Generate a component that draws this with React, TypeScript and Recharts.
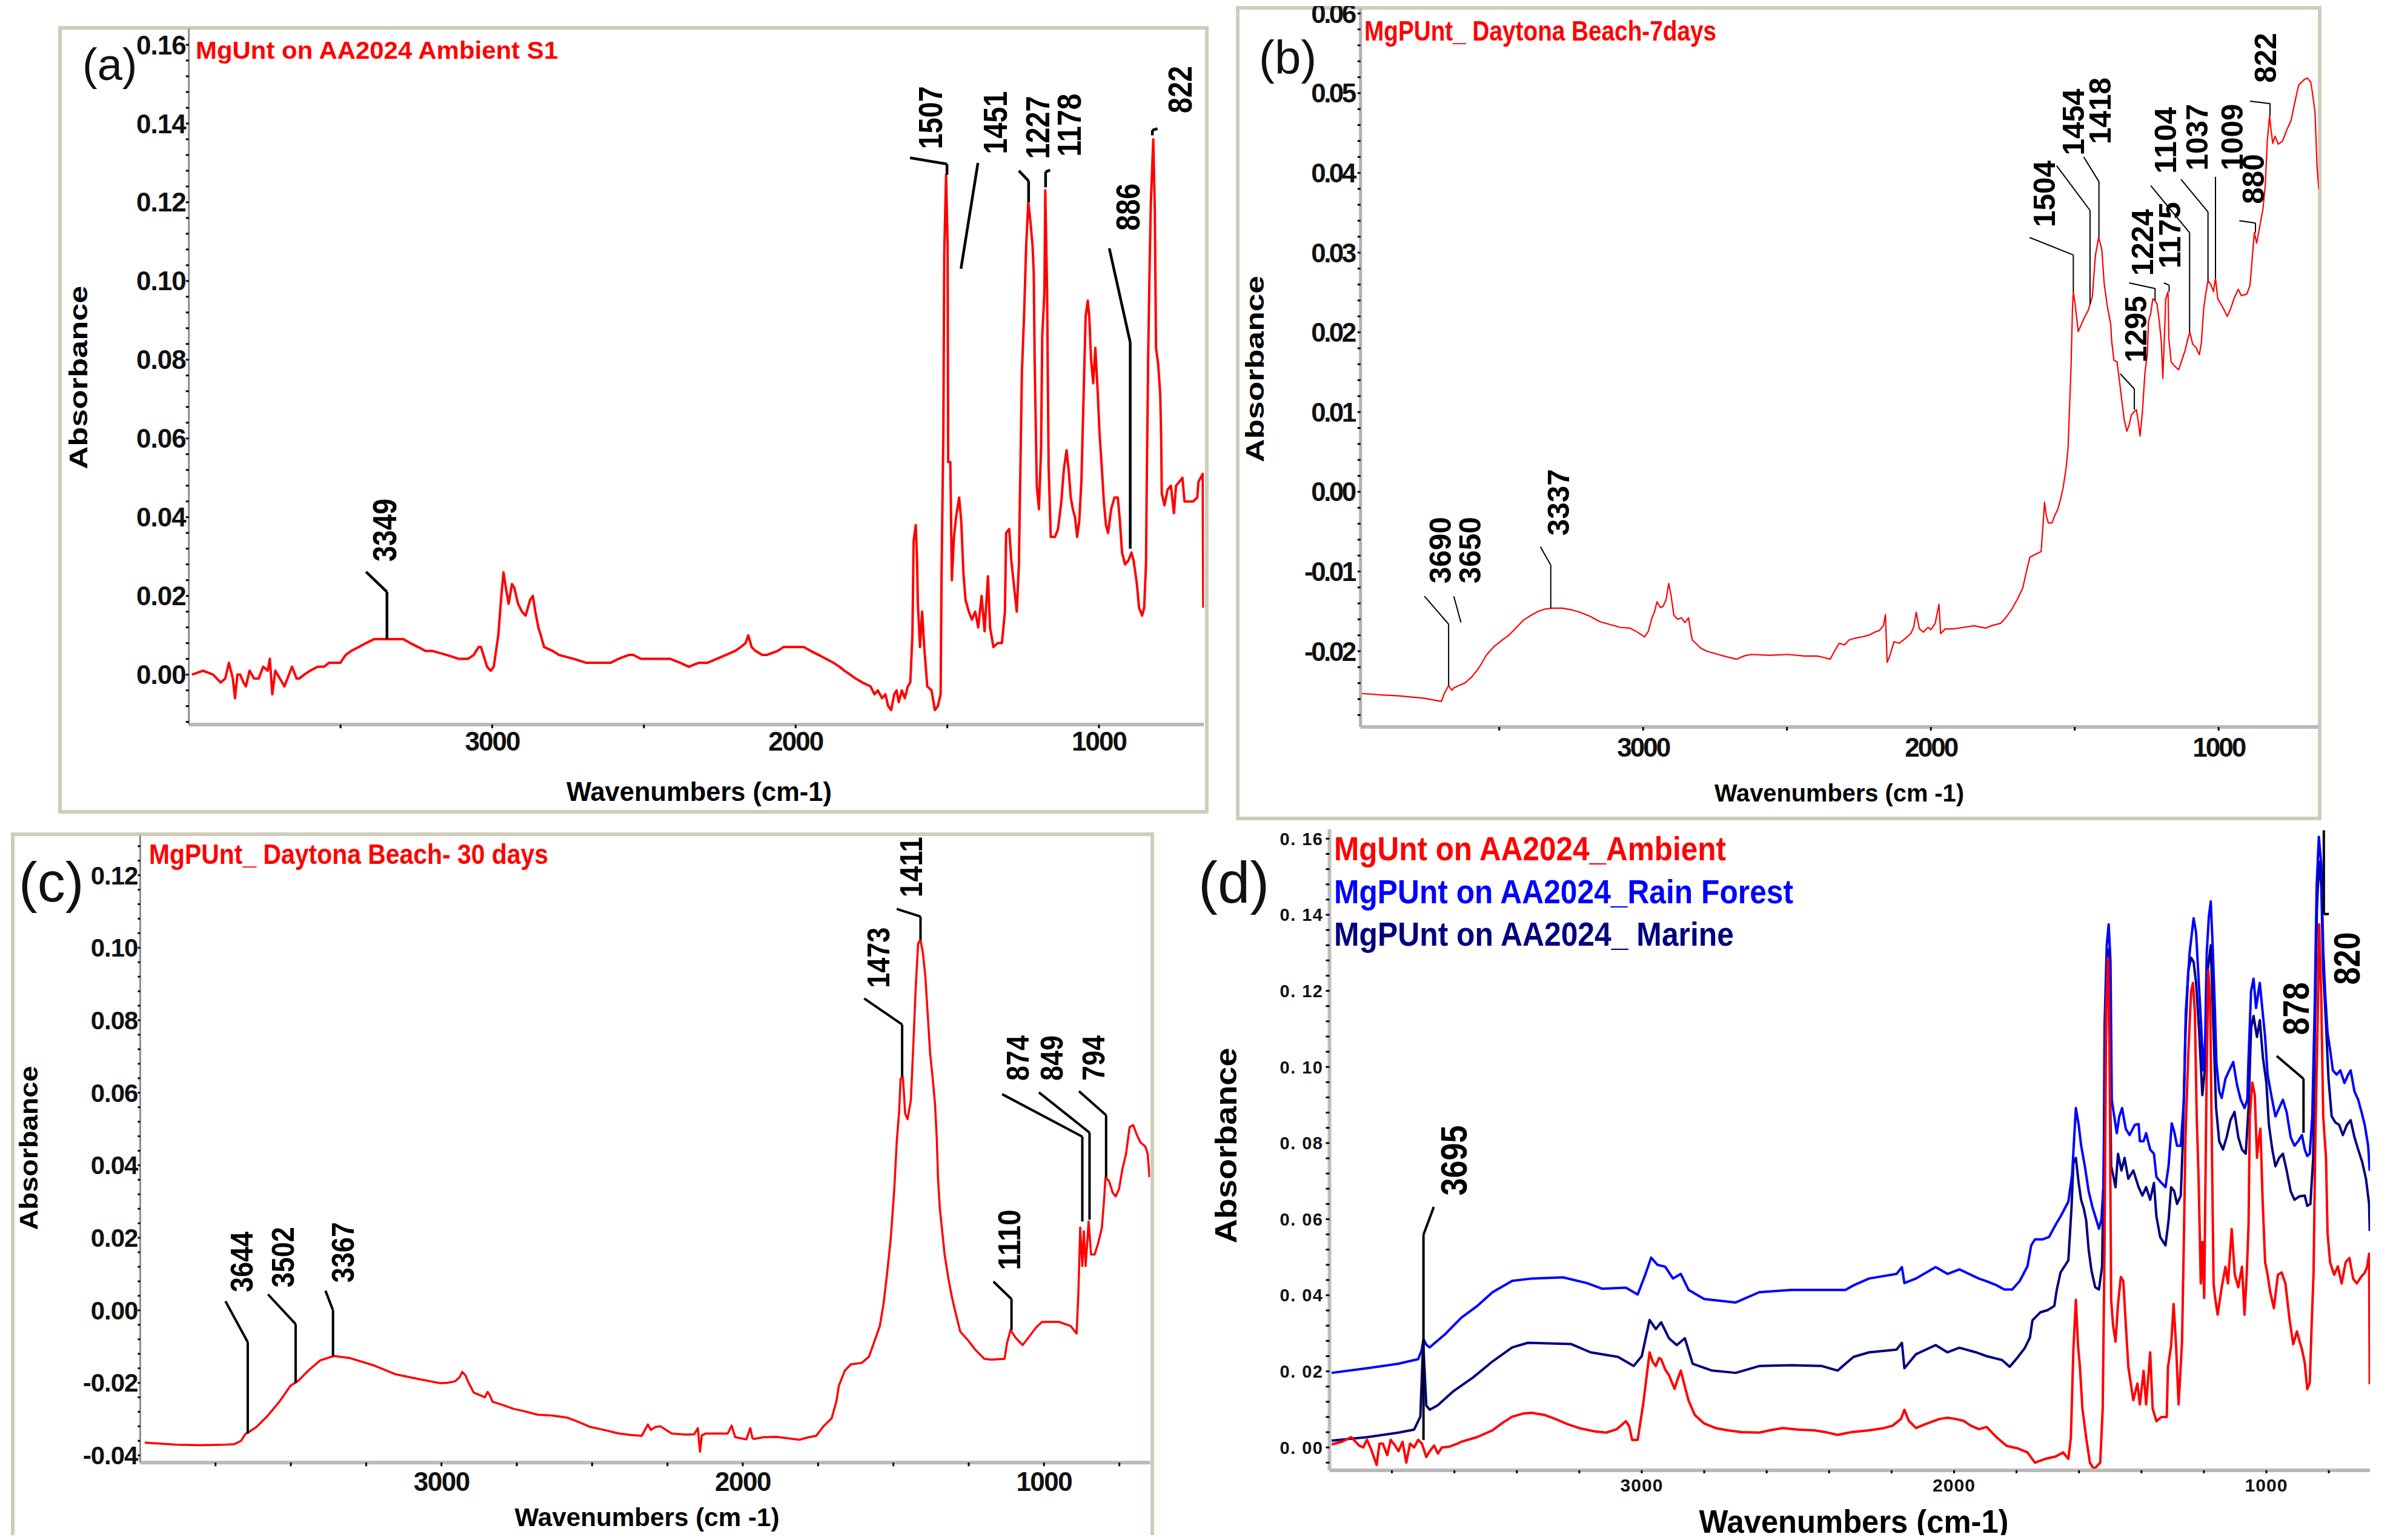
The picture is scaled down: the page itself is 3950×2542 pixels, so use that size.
import React from "react";
import { LineChart, Line, XAxis, YAxis, ReferenceLine, ReferenceDot } from "recharts";

const FONT = "'Liberation Sans', Arial, Helvetica, sans-serif";

// (a) MgUnt on AA2024 Ambient S1
const wnA = [
  3990, 3953, 3920, 3895, 3880, 3868, 3855, 3848, 3840, 3831, 3820, 3812, 3800, 3785, 3770, 3755, 3740, 3733, 3725, 3715,
  3700, 3685, 3670, 3660, 3645, 3636, 3620, 3600, 3575, 3555, 3538, 3520, 3501, 3483, 3465, 3440, 3416, 3390, 3367, 3330,
  3293, 3270, 3244, 3220, 3196, 3150, 3110, 3080, 3061, 3045, 3037, 3025, 3017, 3005, 2995, 2980, 2970, 2963, 2955, 2946,
  2935, 2927, 2915, 2902, 2890, 2875, 2866, 2858, 2848, 2840, 2829, 2800, 2780, 2731, 2690, 2645, 2610, 2584, 2550, 2535,
  2510, 2487, 2450, 2413, 2380, 2352, 2320, 2291, 2260, 2230, 2200, 2181, 2165, 2156, 2145, 2132, 2110, 2095, 2060, 2040,
  2022, 1995, 1973, 1950, 1924, 1900, 1875, 1855, 1839, 1820, 1802, 1780, 1753, 1740, 1729, 1715, 1704, 1695, 1685, 1675,
  1667, 1660, 1650, 1640, 1630, 1622, 1615, 1611, 1604, 1600, 1597, 1590, 1583, 1576, 1566, 1552, 1541, 1531, 1522, 1519,
  1513, 1510, 1504, 1499, 1497, 1490, 1485, 1478, 1471, 1461, 1454, 1447, 1440, 1429, 1419, 1408, 1398, 1387, 1377, 1366,
  1359, 1348, 1334, 1320, 1310, 1306, 1296, 1289, 1278, 1271, 1264, 1261, 1254, 1247, 1240, 1233, 1226, 1219, 1215, 1212,
  1205, 1198, 1191, 1187, 1180, 1177, 1171, 1168, 1166, 1159, 1145, 1135, 1124, 1116, 1107, 1100, 1093, 1086, 1079, 1072,
  1065, 1058, 1051, 1044, 1037, 1032, 1026, 1019, 1012, 1005, 998, 991, 984, 977, 970, 960, 949, 938, 931, 924,
  914, 903, 893, 886, 875, 868, 858, 851, 845, 843, 838, 834, 829, 821, 816, 812, 805, 798, 795, 793,
  784, 774, 763, 753, 746, 735, 725, 718, 704, 690, 676, 672, 658, 656,
];
const absA = [
  0.0, 0.001, 0.0, -0.002, -0.001, 0.003, -0.001, -0.006, 0.0, 0.0, -0.002, -0.003, 0.001, -0.001, -0.001, 0.002, 0.001, 0.004, -0.005, 0.001,
  -0.001, -0.003, 0.0, 0.002, -0.001, -0.001, 0.0, 0.001, 0.002, 0.002, 0.003, 0.003, 0.003, 0.005, 0.006, 0.007, 0.008, 0.009, 0.009, 0.009,
  0.009, 0.008, 0.007, 0.006, 0.006, 0.005, 0.004, 0.004, 0.005, 0.007, 0.007, 0.004, 0.002, 0.001, 0.002, 0.01, 0.02, 0.026, 0.022, 0.018,
  0.023, 0.022, 0.018, 0.016, 0.015, 0.019, 0.02, 0.016, 0.012, 0.01, 0.007, 0.006, 0.005, 0.004, 0.003, 0.003, 0.003, 0.004, 0.005, 0.005,
  0.004, 0.004, 0.004, 0.004, 0.003, 0.002, 0.003, 0.003, 0.004, 0.005, 0.006, 0.007, 0.008, 0.01, 0.007, 0.006, 0.005, 0.005, 0.006, 0.007,
  0.007, 0.007, 0.007, 0.006, 0.005, 0.004, 0.003, 0.002, 0.001, 0.0, -0.001, -0.002, -0.003, -0.005, -0.004, -0.006, -0.005, -0.008, -0.009, -0.005,
  -0.004, -0.007, -0.004, -0.006, -0.003, -0.002, 0.01, 0.034, 0.038, 0.03, 0.018, 0.007, 0.016, 0.007, -0.003, -0.004, -0.009, -0.008, -0.005, 0.025,
  0.062, 0.107, 0.127, 0.109, 0.054, 0.054, 0.024, 0.035, 0.04, 0.045, 0.039, 0.026, 0.019, 0.016, 0.014, 0.016, 0.012, 0.02, 0.011, 0.025,
  0.012, 0.007, 0.008, 0.008, 0.016, 0.036, 0.037, 0.029, 0.021, 0.016, 0.028, 0.043, 0.077, 0.091, 0.109, 0.12, 0.115, 0.109, 0.102, 0.08,
  0.048, 0.042, 0.057, 0.086, 0.097, 0.123, 0.097, 0.07, 0.053, 0.035, 0.035, 0.037, 0.044, 0.052, 0.057, 0.052, 0.045, 0.042, 0.04, 0.035,
  0.039, 0.049, 0.07, 0.091, 0.095, 0.091, 0.08, 0.074, 0.083, 0.073, 0.061, 0.053, 0.044, 0.038, 0.036, 0.042, 0.045, 0.045, 0.039, 0.031,
  0.028, 0.029, 0.031, 0.029, 0.023, 0.017, 0.015, 0.017, 0.028, 0.045, 0.08, 0.1, 0.12, 0.136, 0.118, 0.083, 0.079, 0.071, 0.06, 0.046,
  0.043, 0.047, 0.048, 0.041, 0.048, 0.049, 0.05, 0.044, 0.044, 0.044, 0.045, 0.049, 0.051, 0.017,
];

// (b) MgPUnt_ Daytona Beach-7days
const wnB = [
  3977, 3900, 3849, 3760, 3701, 3691, 3676, 3665, 3658, 3640, 3620, 3595, 3569, 3545, 3518, 3490, 3467, 3440, 3416, 3390,
  3365, 3340, 3314, 3280, 3250, 3220, 3186, 3150, 3110, 3080, 3046, 3020, 2995, 2982, 2969, 2960, 2952, 2940, 2931, 2920,
  2911, 2903, 2893, 2880, 2867, 2855, 2842, 2835, 2829, 2800, 2778, 2730, 2676, 2650, 2625, 2560, 2497, 2440, 2395, 2370,
  2350, 2335, 2319, 2300, 2285, 2268, 2240, 2217, 2195, 2179, 2165, 2158, 2152, 2145, 2128, 2110, 2089, 2070, 2060, 2051,
  2040, 2026, 2010, 2000, 1985, 1972, 1966, 1950, 1923, 1885, 1850, 1809, 1790, 1758, 1740, 1720, 1700, 1681, 1668, 1656,
  1635, 1617, 1610, 1605, 1599, 1592, 1579, 1570, 1559, 1550, 1541, 1530, 1523, 1513, 1508, 1505, 1499, 1488, 1477, 1466,
  1454, 1447, 1439, 1436, 1428, 1417, 1406, 1398, 1387, 1375, 1372, 1364, 1353, 1345, 1337, 1328, 1319, 1310, 1304, 1295,
  1286, 1280, 1273, 1265, 1256, 1248, 1244, 1236, 1229, 1221, 1214, 1206, 1199, 1194, 1188, 1184, 1176, 1173, 1165, 1154,
  1139, 1127, 1116, 1107, 1100, 1090, 1079, 1067, 1060, 1052, 1045, 1037, 1026, 1018, 1011, 1003, 988, 970, 958, 947,
  932, 921, 902, 891, 883, 876, 868, 861, 853, 846, 838, 831, 823, 819, 812, 804, 793, 778, 763, 748,
  737, 722, 703, 692, 680, 673, 665, 661, 658, 652,
];
const absB = [
  -0.0253, -0.0255, -0.0256, -0.0259, -0.0263, -0.0253, -0.0243, -0.0249, -0.0246, -0.0243, -0.024, -0.0232, -0.022, -0.0205, -0.0194, -0.0186, -0.018, -0.017, -0.0161, -0.0155,
  -0.015, -0.0147, -0.0146, -0.0146, -0.0148, -0.0151, -0.0156, -0.0163, -0.0167, -0.017, -0.0171, -0.0176, -0.0182, -0.0175, -0.0158, -0.015, -0.0138, -0.0145, -0.0144, -0.0135,
  -0.0115, -0.013, -0.0155, -0.016, -0.0158, -0.0164, -0.0158, -0.0175, -0.0186, -0.0196, -0.02, -0.0205, -0.021, -0.0206, -0.0204, -0.0205, -0.0204, -0.0206, -0.0206, -0.0208,
  -0.021, -0.02, -0.019, -0.0192, -0.0186, -0.0184, -0.0182, -0.018, -0.0176, -0.0174, -0.0168, -0.0154, -0.0214, -0.0208, -0.0188, -0.019, -0.0184, -0.0178, -0.017, -0.0151,
  -0.0172, -0.0176, -0.017, -0.0173, -0.0165, -0.0141, -0.0178, -0.0172, -0.0172, -0.017, -0.0168, -0.0171, -0.0168, -0.0165, -0.0158, -0.0148, -0.0135, -0.0121, -0.01, -0.0082,
  -0.0078, -0.0075, -0.004, -0.0013, -0.003, -0.0039, -0.0039, -0.003, -0.0022, -0.001, 0.0004, 0.003, 0.0057, 0.0156, 0.023, 0.0251, 0.0236, 0.0201, 0.021, 0.0219,
  0.0227, 0.0235, 0.0245, 0.0259, 0.0297, 0.0319, 0.0304, 0.0262, 0.0233, 0.021, 0.019, 0.0165, 0.0163, 0.014, 0.0116, 0.009, 0.0076, 0.0085, 0.0096, 0.01,
  0.0103, 0.009, 0.007, 0.01, 0.015, 0.0172, 0.0213, 0.0224, 0.0242, 0.024, 0.0235, 0.0213, 0.0187, 0.0142, 0.02, 0.0242, 0.0251, 0.0192, 0.0163, 0.0158,
  0.0153, 0.0166, 0.0178, 0.0192, 0.02, 0.0185, 0.0181, 0.0172, 0.0187, 0.023, 0.0248, 0.0265, 0.0259, 0.0251, 0.0268, 0.0242, 0.0233, 0.022, 0.023, 0.0242,
  0.0254, 0.0246, 0.0248, 0.0259, 0.0294, 0.0325, 0.0312, 0.0325, 0.0341, 0.0355, 0.0384, 0.044, 0.0472, 0.0457, 0.0437, 0.0446, 0.0436, 0.044, 0.0454, 0.0466,
  0.0486, 0.051, 0.0517, 0.0519, 0.0514, 0.0498, 0.0475, 0.0437, 0.0408, 0.0379,
];

// (c) MgPUnt_ Daytona Beach- 30 days
const wnC = [
  3985, 3930, 3873, 3800, 3724, 3687, 3665, 3650, 3643, 3613, 3576, 3538, 3501, 3476, 3439, 3402, 3357, 3303, 3228, 3154,
  3079, 3005, 2980, 2955, 2940, 2931, 2920, 2911, 2893, 2870, 2856, 2847, 2839, 2831, 2794, 2760, 2732, 2680, 2633, 2583,
  2545, 2509, 2460, 2410, 2370, 2335, 2315, 2305, 2290, 2273, 2236, 2190, 2161, 2149, 2142, 2136, 2124, 2090, 2050, 2037,
  2025, 2000, 1988, 1975, 1968, 1963, 1930, 1888, 1860, 1812, 1780, 1756, 1732, 1705, 1689, 1681, 1661, 1641, 1605, 1581,
  1561, 1545, 1533, 1521, 1509, 1497, 1489, 1481, 1476, 1469, 1466, 1461, 1453, 1442, 1434, 1426, 1418, 1410, 1402, 1394,
  1386, 1378, 1370, 1362, 1356, 1352, 1346, 1338, 1330, 1318, 1306, 1294, 1278, 1254, 1230, 1198, 1175, 1131, 1123, 1111,
  1095, 1071, 1047, 1027, 1007, 951, 912, 892, 886, 880, 873, 868, 862, 852, 844, 832, 820, 808, 800, 796,
  784, 772, 762, 751, 740, 728, 716, 704, 692, 680, 664, 656, 650,
];
const absC = [
  -0.0365, -0.0368, -0.0371, -0.0372, -0.0371, -0.0369, -0.036, -0.034, -0.0338, -0.0321, -0.029, -0.0252, -0.0208, -0.0195, -0.0164, -0.0138, -0.0126, -0.0132, -0.0151, -0.0176,
  -0.0189, -0.0201, -0.02, -0.0196, -0.0185, -0.017, -0.018, -0.0198, -0.0227, -0.0235, -0.024, -0.0225, -0.0235, -0.0252, -0.0262, -0.0272, -0.0277, -0.0288, -0.029, -0.0296,
  -0.0308, -0.0321, -0.033, -0.034, -0.0344, -0.0346, -0.0315, -0.033, -0.0322, -0.032, -0.034, -0.0343, -0.0342, -0.0325, -0.039, -0.0345, -0.034, -0.034, -0.034, -0.0318,
  -0.035, -0.0354, -0.0356, -0.0325, -0.0352, -0.0355, -0.035, -0.0349, -0.0352, -0.0357, -0.035, -0.0346, -0.032, -0.0298, -0.025, -0.0208, -0.0166, -0.0149, -0.0145, -0.0128,
  -0.0081, -0.0043, 0.0016, 0.0101, 0.0196, 0.0335, 0.0463, 0.0548, 0.0639, 0.0644, 0.0612, 0.0543, 0.0527, 0.058, 0.0729, 0.0889, 0.1011, 0.1022, 0.0985, 0.0921,
  0.0815, 0.0708, 0.0644, 0.057, 0.0474, 0.0367, 0.0282, 0.0218, 0.0154, 0.009, 0.0037, -0.0006, -0.0059, -0.0081, -0.0107, -0.0134, -0.0136, -0.0134, -0.0091, -0.0054,
  -0.0075, -0.0096, -0.007, -0.0048, -0.0032, -0.0032, -0.0043, -0.0064, 0.0047, 0.0228, 0.0122, 0.0218, 0.0122, 0.0245, 0.0154, 0.0154, 0.0186, 0.0228, 0.0314, 0.0367,
  0.0356, 0.0324, 0.0314, 0.0335, 0.0389, 0.0431, 0.0505, 0.0511, 0.0484, 0.0463, 0.0452, 0.0431, 0.0367,
];

// (d) MgUnt on AA2024_Ambient
const wnAmbient = [
  3993, 3960, 3930, 3905, 3892, 3880, 3867, 3849, 3840, 3829, 3815, 3804, 3790, 3779, 3766, 3754, 3742, 3729, 3716, 3704,
  3690, 3679, 3665, 3653, 3640, 3616, 3590, 3578, 3528, 3478, 3445, 3415, 3380, 3352, 3310, 3277, 3240, 3201, 3150, 3114,
  3080, 3051, 3040, 3031, 3013, 2995, 2975, 2965, 2955, 2945, 2938, 2925, 2913, 2895, 2885, 2875, 2862, 2850, 2830, 2800,
  2760, 2724, 2680, 2624, 2590, 2549, 2500, 2448, 2410, 2373, 2330, 2272, 2230, 2197, 2170, 2159, 2145, 2122, 2090, 2046,
  2020, 1996, 1970, 1946, 1920, 1896, 1863, 1831, 1798, 1765, 1741, 1708, 1675, 1651, 1634, 1626, 1618, 1610, 1603, 1597,
  1589, 1577, 1565, 1552, 1532, 1524, 1518, 1513, 1507, 1502, 1497, 1491, 1483, 1475, 1466, 1458, 1450, 1442, 1434, 1426,
  1413, 1405, 1393, 1385, 1372, 1364, 1352, 1336, 1319, 1315, 1305, 1297, 1289, 1281, 1270, 1264, 1259, 1250, 1241, 1235,
  1229, 1223, 1217, 1210, 1205, 1199, 1192, 1186, 1180, 1174, 1169, 1164, 1156, 1143, 1131, 1123, 1111, 1101, 1090, 1078,
  1070, 1063, 1057, 1053, 1045, 1037, 1030, 1025, 1019, 1012, 1004, 996, 988, 976, 963, 951, 939, 926, 914, 902,
  894, 886, 877, 869, 861, 855, 849, 843, 836, 831, 824, 818, 809, 804, 796, 783, 771, 759, 746, 734,
  722, 710, 697, 685, 677, 671, 669,
];
const absAmbient = [
  0.0008, 0.0015, 0.0027, 0.0005, 0.0, 0.002, -0.0004, -0.0046, 0.001, 0.001, -0.002, 0.002, 0.0005, -0.001, 0.0015, -0.004, 0.001, 0.0, 0.002, 0.001,
  -0.0025, -0.001, 0.0005, -0.0016, 0.0, 0.0002, 0.001, 0.0015, 0.0027, 0.0045, 0.0065, 0.0081, 0.0089, 0.0091, 0.0085, 0.0075, 0.0062, 0.0051, 0.0042, 0.0039,
  0.0048, 0.0069, 0.0055, 0.002, 0.002, 0.0117, 0.025, 0.0225, 0.0214, 0.0235, 0.0232, 0.0205, 0.019, 0.0154, 0.018, 0.0202, 0.016, 0.0123, 0.0085, 0.0063,
  0.005, 0.0045, 0.004, 0.0039, 0.0045, 0.0051, 0.0047, 0.0045, 0.004, 0.0033, 0.004, 0.0045, 0.005, 0.0057, 0.0075, 0.0099, 0.007, 0.0051, 0.0062, 0.0075,
  0.0078, 0.0075, 0.007, 0.0057, 0.0048, 0.0054, 0.0026, 0.0004, -0.0002, -0.0013, -0.004, -0.003, -0.0024, -0.0013, -0.003, 0.0026, 0.0256, 0.0388, 0.0267, 0.0212,
  0.0102, 0.0026, -0.004, -0.0057, -0.004, 0.0102, 0.054, 0.1145, 0.1287, 0.1035, 0.0388, 0.0322, 0.0278, 0.0377, 0.0448, 0.0437, 0.0322, 0.0212, 0.0168, 0.0124,
  0.0168, 0.0113, 0.0201, 0.0113, 0.025, 0.0102, 0.0069, 0.008, 0.008, 0.0212, 0.0267, 0.0377, 0.0267, 0.0113, 0.0278, 0.0552, 0.0816, 0.1035, 0.1199, 0.1221,
  0.1145, 0.0871, 0.0706, 0.0431, 0.054, 0.0393, 0.0926, 0.1254, 0.1177, 0.0761, 0.0431, 0.0393, 0.0349, 0.0421, 0.0475, 0.0431, 0.0574, 0.0454, 0.0421, 0.0475,
  0.0349, 0.0454, 0.0585, 0.0871, 0.0959, 0.0926, 0.0761, 0.0805, 0.0838, 0.0651, 0.0487, 0.0454, 0.041, 0.0366, 0.0454, 0.046, 0.0431, 0.0338, 0.0271, 0.0305,
  0.028, 0.0258, 0.0222, 0.0153, 0.017, 0.0322, 0.0454, 0.0816, 0.1112, 0.1375, 0.1177, 0.0871, 0.0761, 0.0563, 0.0487, 0.0454, 0.0476, 0.0431, 0.0487, 0.0498,
  0.0443, 0.0431, 0.0448, 0.0459, 0.0476, 0.0509, 0.0166,
];

// (d) MgPUnt on AA2024_Rain Forest
const wnRain = [
  3993, 3880, 3779, 3716, 3705, 3699, 3690, 3679, 3628, 3578, 3528, 3478, 3415, 3352, 3252, 3176, 3126, 3051, 3013, 2988,
  2970, 2950, 2925, 2900, 2875, 2850, 2800, 2699, 2624, 2523, 2398, 2348, 2322, 2272, 2184, 2167, 2159, 2122, 2059, 2021,
  1983, 1921, 1896, 1863, 1839, 1814, 1790, 1765, 1753, 1741, 1716, 1696, 1675, 1659, 1634, 1622, 1610, 1601, 1593, 1581,
  1569, 1556, 1544, 1536, 1528, 1521, 1518, 1511, 1505, 1499, 1495, 1487, 1479, 1471, 1462, 1450, 1438, 1421, 1409, 1405,
  1393, 1385, 1372, 1360, 1352, 1340, 1323, 1313, 1303, 1295, 1286, 1274, 1264, 1258, 1246, 1233, 1225, 1217, 1209, 1202,
  1196, 1191, 1184, 1178, 1172, 1165, 1160, 1151, 1143, 1131, 1119, 1106, 1094, 1082, 1070, 1061, 1057, 1049, 1041, 1033,
  1021, 1012, 1004, 996, 984, 971, 959, 947, 935, 922, 910, 898, 886, 877, 869, 861, 853, 845, 839, 832,
  824, 818, 812, 804, 796, 787, 775, 763, 750, 738, 730, 718, 706, 695, 685, 674, 669,
];
const absRain = [
  0.0196, 0.0208, 0.022, 0.0232, 0.0255, 0.0285, 0.027, 0.0263, 0.0299, 0.0341, 0.0371, 0.0408, 0.0438, 0.0444, 0.0447, 0.0432, 0.0417, 0.042, 0.0402, 0.0456,
  0.0499, 0.048, 0.0475, 0.0444, 0.0456, 0.0414, 0.039, 0.0381, 0.0408, 0.0414, 0.0414, 0.0414, 0.0426, 0.0444, 0.0456, 0.0474, 0.0432, 0.0444, 0.0474, 0.0456,
  0.0468, 0.0444, 0.0437, 0.0426, 0.0415, 0.0415, 0.0437, 0.0476, 0.0531, 0.0547, 0.0547, 0.0553, 0.0585, 0.0607, 0.0646, 0.0717, 0.0892, 0.0848, 0.0793, 0.0738,
  0.0673, 0.0629, 0.0597, 0.0575, 0.06, 0.0695, 0.1112, 0.132, 0.1375, 0.1276, 0.0914, 0.087, 0.0826, 0.087, 0.0892, 0.0837, 0.0821, 0.0848, 0.085, 0.0805,
  0.0805, 0.0826, 0.0783, 0.0772, 0.0711, 0.0699, 0.0684, 0.0741, 0.0852, 0.083, 0.0793, 0.0793, 0.0914, 0.1145, 0.1298, 0.1391, 0.1353, 0.1232, 0.1112, 0.0991,
  0.1068, 0.1298, 0.1397, 0.1435, 0.132, 0.1155, 0.1013, 0.0936, 0.0919, 0.0969, 0.0991, 0.1013, 0.0953, 0.0914, 0.0892, 0.0914, 0.1024, 0.1199, 0.1232, 0.1155,
  0.1221, 0.1145, 0.1079, 0.098, 0.0925, 0.087, 0.0892, 0.0914, 0.0881, 0.0815, 0.0793, 0.0805, 0.0821, 0.0783, 0.0766, 0.0772, 0.087, 0.1167, 0.1474, 0.1605,
  0.1529, 0.1309, 0.1199, 0.1089, 0.1046, 0.0991, 0.098, 0.0991, 0.0958, 0.098, 0.0991, 0.0936, 0.0914, 0.0881, 0.0848, 0.0793, 0.0727,
];

// (d) MgPUnt on AA2024_ Marine
const wnMarine = [
  3993, 3880, 3779, 3729, 3709, 3700, 3690, 3679, 3653, 3603, 3540, 3478, 3415, 3365, 3227, 3164, 3076, 3026, 3000, 2975,
  2955, 2938, 2913, 2888, 2862, 2837, 2775, 2699, 2624, 2523, 2423, 2373, 2322, 2272, 2184, 2167, 2159, 2122, 2059, 2021,
  1983, 1930, 1896, 1847, 1822, 1798, 1773, 1757, 1749, 1724, 1700, 1679, 1671, 1659, 1634, 1624, 1618, 1610, 1601, 1593,
  1585, 1577, 1569, 1560, 1548, 1536, 1526, 1520, 1513, 1507, 1502, 1497, 1491, 1483, 1475, 1464, 1454, 1442, 1426, 1409,
  1397, 1385, 1372, 1360, 1352, 1340, 1323, 1313, 1305, 1295, 1286, 1274, 1268, 1259, 1250, 1241, 1233, 1225, 1215, 1205,
  1196, 1188, 1178, 1169, 1161, 1151, 1139, 1127, 1115, 1102, 1090, 1078, 1066, 1057, 1049, 1041, 1030, 1021, 1011, 1000,
  992, 981, 971, 959, 947, 935, 922, 910, 894, 877, 869, 859, 850, 845, 838, 832, 824, 818, 809, 801,
  791, 779, 767, 755, 742, 730, 718, 706, 693, 681, 671, 669,
];
const absMarine = [
  0.0018, 0.0027, 0.0039, 0.0047, 0.0081, 0.028, 0.011, 0.0099, 0.0111, 0.0148, 0.0184, 0.0226, 0.0263, 0.0275, 0.0272, 0.025, 0.0238, 0.0214, 0.024, 0.0335,
  0.0311, 0.0329, 0.0287, 0.0269, 0.0287, 0.022, 0.0202, 0.0196, 0.0214, 0.0216, 0.0214, 0.0202, 0.0238, 0.025, 0.0257, 0.0275, 0.0208, 0.0245, 0.0269, 0.025,
  0.0262, 0.025, 0.024, 0.023, 0.0212, 0.0235, 0.0262, 0.0289, 0.0334, 0.0355, 0.0361, 0.0372, 0.0415, 0.046, 0.0492, 0.0629, 0.0747, 0.0761, 0.0695, 0.065,
  0.0629, 0.0597, 0.052, 0.0465, 0.0421, 0.0415, 0.0476, 0.0783, 0.1177, 0.1309, 0.1046, 0.0739, 0.0717, 0.0684, 0.0772, 0.0728, 0.0761, 0.0706, 0.0728, 0.0684,
  0.0662, 0.0684, 0.0651, 0.0695, 0.0607, 0.0553, 0.0531, 0.0597, 0.0684, 0.0673, 0.064, 0.0662, 0.0794, 0.109, 0.1254, 0.1287, 0.1276, 0.1221, 0.109, 0.0926,
  0.1002, 0.1254, 0.132, 0.109, 0.0893, 0.0805, 0.0783, 0.0816, 0.086, 0.0882, 0.0816, 0.0783, 0.0772, 0.0893, 0.1102, 0.1134, 0.1079, 0.1123, 0.1025, 0.0959,
  0.0849, 0.0783, 0.0739, 0.0761, 0.0772, 0.0728, 0.0673, 0.0651, 0.066, 0.0662, 0.0635, 0.064, 0.0761, 0.109, 0.1419, 0.154, 0.1474, 0.1254, 0.1112, 0.0969,
  0.0871, 0.0854, 0.0848, 0.0821, 0.0848, 0.086, 0.0816, 0.0783, 0.075, 0.0706, 0.064, 0.0569,
];

// peak annotations in data units: leader from (x,y0) up to (x,y1), then to (x2,y2); label centred on tx, starting at ty
type Peak = { label: string; x: number; y0: number; y1: number; x2: number; y2: number; tx: number; ty: number };

const peaksA: Peak[] = [
  { label: "3349", x: 3347, y0: 0.009, y1: 0.021, x2: 3416, y2: 0.0261, tx: 3355, ty: 0.0287 },
  { label: "1507", x: 1501, y0: 0.127, y1: 0.1297, x2: 1623, y2: 0.1313, tx: 1557, ty: 0.1335 },
  { label: "1451", x: 1455, y0: 0.1031, y1: 0.1031, x2: 1399, y2: 0.13, tx: 1342, ty: 0.1322 },
  { label: "1227", x: 1232, y0: 0.12, y1: 0.1254, x2: 1264, y2: 0.128, tx: 1203, ty: 0.131 },
  { label: "1178", x: 1176, y0: 0.1238, y1: 0.1277, x2: 1161, y2: 0.1282, tx: 1098, ty: 0.1316 },
  { label: "886", x: 897, y0: 0.032, y1: 0.0844, x2: 966, y2: 0.1083, tx: 905, ty: 0.1128 },
  { label: "822", x: 824, y0: 0.137, y1: 0.1383, x2: 807, y2: 0.1387, tx: 734, ty: 0.1426 },
];

const peaksB: Peak[] = [
  { label: "3690", x: 3676, y0: -0.0243, y1: -0.0166, x2: 3760, y2: -0.0131, tx: 3704, ty: -0.0115 },
  { label: "3650", x: 3633, y0: -0.0164, y1: -0.0164, x2: 3658, y2: -0.0131, tx: 3600, ty: -0.0115 },
  { label: "3337", x: 3321, y0: -0.0146, y1: -0.0092, x2: 3357, y2: -0.0069, tx: 3293, ty: -0.0055 },
  { label: "1504", x: 1505, y0: 0.0251, y1: 0.0297, x2: 1657, y2: 0.0319, tx: 1605, ty: 0.0332 },
  { label: "1454", x: 1447, y0: 0.0235, y1: 0.0353, x2: 1563, y2: 0.0409, tx: 1503, ty: 0.0422 },
  { label: "1418", x: 1416, y0: 0.0319, y1: 0.0389, x2: 1469, y2: 0.042, tx: 1411, ty: 0.0436 },
  { label: "1295", x: 1293, y0: 0.0103, y1: 0.0129, x2: 1342, y2: 0.0148, tx: 1286, ty: 0.0162 },
  { label: "1224", x: 1221, y0: 0.024, y1: 0.0255, x2: 1311, y2: 0.0262, tx: 1263, ty: 0.0271 },
  { label: "1175", x: 1172, y0: 0.0251, y1: 0.0259, x2: 1190, y2: 0.0262, tx: 1169, ty: 0.028 },
  { label: "1104", x: 1101, y0: 0.02, y1: 0.0325, x2: 1236, y2: 0.0384, tx: 1184, ty: 0.0399 },
  { label: "1037", x: 1037, y0: 0.0265, y1: 0.0351, x2: 1131, y2: 0.0392, tx: 1075, ty: 0.0403 },
  { label: "1009", x: 1011, y0: 0.0268, y1: 0.0395, x2: 1011, y2: 0.0395, tx: 952, ty: 0.0403 },
  { label: "880", x: 872, y0: 0.0325, y1: 0.0337, x2: 928, y2: 0.034, tx: 879, ty: 0.0361 },
  { label: "822", x: 821.5, y0: 0.0472, y1: 0.0487, x2: 891, y2: 0.049, tx: 836.5, ty: 0.0513 },
];

const peaksC: Peak[] = [
  { label: "3644", x: 3643, y0: -0.034, y1: -0.0088, x2: 3717, y2: 0.0025, tx: 3662, ty: 0.005 },
  { label: "3502", x: 3484, y0: -0.0201, y1: -0.0038, x2: 3576, y2: 0.0044, tx: 3526, ty: 0.0063 },
  { label: "3367", x: 3360, y0: -0.0126, y1: 0.0, x2: 3385, y2: 0.0054, tx: 3328, ty: 0.0076 },
  { label: "1473", x: 1471, y0: 0.0644, y1: 0.0788, x2: 1597, y2: 0.086, tx: 1549, ty: 0.0889 },
  { label: "1411", x: 1410, y0: 0.1022, y1: 0.1086, x2: 1489, y2: 0.1107, tx: 1442, ty: 0.1139 },
  { label: "1110", x: 1108, y0: -0.0054, y1: 0.0031, x2: 1168, y2: 0.0079, tx: 1115, ty: 0.0111 },
  { label: "874", x: 873, y0: 0.0245, y1: 0.0479, x2: 1139, y2: 0.0596, tx: 1088, ty: 0.0633 },
  { label: "849", x: 849, y0: 0.025, y1: 0.049, x2: 1017, y2: 0.0601, tx: 974, ty: 0.0633 },
  { label: "794", x: 794, y0: 0.0367, y1: 0.0538, x2: 884, y2: 0.0604, tx: 836, ty: 0.0633 },
];

const peaksD: Peak[] = [
  { label: "3695", x: 3699, y0: 0.002, y1: 0.0559, x2: 3666, y2: 0.0632, tx: 3603, ty: 0.0662 },
  { label: "878", x: 881, y0: 0.0827, y1: 0.0969, x2: 967, y2: 0.1029, tx: 906, ty: 0.1084 },
  { label: "820", x: 816, y0: 0.1622, y1: 0.1402, x2: 800, y2: 0.1402, tx: 742, ty: 0.1216 },
];

// axis ticks
const xMajor = [1000, 2000, 3000];
const yMajorA = [0, 0.02, 0.04, 0.06, 0.08, 0.1, 0.12, 0.14, 0.16];
const yMajorB = [-0.02, -0.01, 0, 0.01, 0.02, 0.03, 0.04, 0.05, 0.06];
const yMajorC = [-0.04, -0.02, 0, 0.02, 0.04, 0.06, 0.08, 0.1, 0.12];
const yMajorD = [0, 0.02, 0.04, 0.06, 0.08, 0.1, 0.12, 0.14, 0.16];

const range = (from: number, to: number, step: number) => {
  const out: number[] = [];
  for (let v = from; v <= to + step / 1000; v += step) out.push(Math.round(v * 1e6) / 1e6);
  return out;
};

const toRows = (wn: number[], ab: number[]) => wn.map((w, i) => ({ wn: w, abs: ab[i] }));

type Series = { rows: { wn: number; abs: number }[]; color: string; width: number };

type PanelProps = {
  left: number;
  top: number;
  width: number;
  height: number;
  margin: { top: number; right: number; bottom: number; left: number };
  xDomain: [number, number];
  yDomain: [number, number];
  xTicks: number[];
  yTicks: number[];
  yMajor: number[];
  yFormat: (v: number) => string;
  series: Series[];
  peaks: Peak[];
  peakFont: number;
  peakDigit: number;
  leader: number;
  xFont: number;
  xSpacing: number;
  xTickSize: number;
  xTickMargin: number;
  yFont: number;
  ySpacing: number;
  yTickSize: number;
  yTickMargin: number;
  yAxisWidth: number;
  yAxisColor: string;
  yAxisStroke: number;
};

function Panel(p: PanelProps) {
  const isMajorY = (v: number) => p.yMajor.some((m) => Math.abs(m - v) < 1e-9);
  return (
    <div style={{ position: "absolute", left: p.left, top: p.top, width: p.width, height: p.height }}>
      <LineChart width={p.width} height={p.height} margin={p.margin}>
        <XAxis
          type="number"
          dataKey="wn"
          domain={p.xDomain}
          reversed
          allowDataOverflow
          ticks={p.xTicks}
          interval={0}
          height={60}
          tickFormatter={(v: number) => (xMajor.includes(v) ? String(v) : "")}
          axisLine={{ stroke: "#b9b9b9", strokeWidth: 6 }}
          tickLine={{ stroke: "#000", strokeWidth: 3 }}
          tickSize={p.xTickSize}
          tickMargin={p.xTickMargin}
          tick={{ fontSize: p.xFont, fontWeight: 700, fill: "#111", fontFamily: FONT, letterSpacing: p.xSpacing }}
        />
        <YAxis
          type="number"
          domain={p.yDomain}
          allowDataOverflow
          ticks={p.yTicks}
          interval={0}
          width={p.yAxisWidth}
          tickFormatter={(v: number) => (isMajorY(v) ? p.yFormat(v) : "")}
          axisLine={{ stroke: p.yAxisColor, strokeWidth: p.yAxisStroke }}
          tickLine={{ stroke: "#000", strokeWidth: 3 }}
          tickSize={p.yTickSize}
          tickMargin={p.yTickMargin}
          tick={{ fontSize: p.yFont, fontWeight: 700, fill: "#111", fontFamily: FONT, letterSpacing: p.ySpacing }}
        />
        {p.series.map((s, i) => (
          <Line
            key={`s${i}`}
            data={s.rows}
            dataKey="abs"
            type="linear"
            stroke={s.color}
            strokeWidth={s.width}
            strokeLinejoin="round"
            dot={false}
            activeDot={false}
            isAnimationActive={false}
          />
        ))}
        {p.peaks.map((k, i) => (
          <ReferenceLine
            key={`v${i}`}
            segment={[{ x: k.x, y: k.y0 }, { x: k.x, y: k.y1 }]}
            stroke="#000"
            strokeWidth={p.leader}
            ifOverflow="visible"
          />
        ))}
        {p.peaks.map((k, i) => (
          <ReferenceLine
            key={`d${i}`}
            segment={[{ x: k.x, y: k.y1 }, { x: k.x2, y: k.y2 }]}
            stroke="#000"
            strokeWidth={p.leader}
            ifOverflow="visible"
          />
        ))}
        {p.peaks.map((k, i) => (
          <ReferenceDot
            key={`t${i}`}
            x={k.tx}
            y={k.ty}
            r={0}
            ifOverflow="visible"
            shape={(d: any) => (
              <text
                x={d.cx}
                y={d.cy}
                transform={`rotate(-90 ${d.cx} ${d.cy})`}
                fontSize={p.peakFont}
                fontWeight={700}
                fontFamily={FONT}
                fill="#000"
                dominantBaseline="central"
                textLength={k.label.length * p.peakDigit}
                lengthAdjust="spacingAndGlyphs"
              >
                {k.label}
              </text>
            )}
          />
        ))}
      </LineChart>
    </div>
  );
}

const frame = (left: number, top: number, width: number, height: number): React.CSSProperties => ({
  position: "absolute",
  left,
  top,
  width,
  height,
  boxSizing: "border-box",
  border: "6px solid #cfccbc",
});

function T(props: {
  x: number;
  y: number;
  size: number;
  len?: number;
  color?: string;
  bold?: boolean;
  anchor?: "start" | "middle";
  rotate?: boolean;
  children: string;
}) {
  const { x, y, size, len, color = "#000", bold = true, anchor = "start", rotate = false } = props;
  return (
    <text
      x={rotate ? 0 : x}
      y={rotate ? 0 : y}
      transform={rotate ? `translate(${x} ${y}) rotate(-90)` : undefined}
      fontSize={size}
      fontFamily={FONT}
      fontWeight={bold ? 700 : 400}
      fill={color}
      textAnchor={anchor}
      dominantBaseline={rotate ? "central" : "auto"}
      textLength={len}
      lengthAdjust={len ? "spacingAndGlyphs" : undefined}
    >
      {props.children}
    </text>
  );
}

export default function App() {
  const fix2 = (v: number) => v.toFixed(2);
  const fmtD = (v: number) => `0. ${String(Math.round(v * 100)).padStart(2, "0")}`;
  return (
    <div style={{ position: "relative", width: 3950, height: 2542, background: "#fff", overflow: "hidden", margin: -8 }}>
      <div style={frame(96, 43, 1899, 1300)} />
      <div style={frame(2040, 10, 1792, 1344)} />
      <div style={frame(18, 1374, 1887, 1172)} />

      <Panel
        left={96}
        top={43}
        width={1899}
        height={1300}
        margin={{ top: 4.3, right: 7.7, bottom: 86.9, left: 95.75 }}
        xDomain={[654, 4000]}
        yDomain={[-0.0127, 0.1641]}
        xTicks={range(1000, 3500, 500)}
        yTicks={range(-0.012, 0.16, 0.004)}
        yMajor={yMajorA}
        yFormat={fix2}
        series={[{ rows: toRows(wnA, absA), color: "#ff0000", width: 4 }]}
        peaks={peaksA}
        peakFont={56}
        peakDigit={26}
        leader={4.5}
        xFont={44}
        xSpacing={-2}
        xTickSize={6}
        xTickMargin={6}
        yFont={44}
        ySpacing={-1}
        yTickSize={5}
        yTickMargin={0}
        yAxisWidth={120}
        yAxisColor="#8a8a8a"
        yAxisStroke={3}
      />

      <Panel
        left={2040}
        top={10}
        width={1792}
        height={1344}
        margin={{ top: 4.3, right: 4.5, bottom: 94, left: 85.8 }}
        xDomain={[652, 3982]}
        yDomain={[-0.0295, 0.0606]}
        xTicks={range(1000, 3500, 500)}
        yTicks={range(-0.028, 0.06, 0.002)}
        yMajor={yMajorB}
        yFormat={fix2}
        series={[{ rows: toRows(wnB, absB), color: "#ff0000", width: 2.2 }]}
        peaks={peaksB}
        peakFont={50}
        peakDigit={27.5}
        leader={2}
        xFont={44}
        xSpacing={-3}
        xTickSize={6}
        xTickMargin={12}
        yFont={44}
        ySpacing={-3.5}
        yTickSize={5}
        yTickMargin={5}
        yAxisWidth={120}
        yAxisColor="#b0b0b0"
        yAxisStroke={5}
      />

      <Panel
        left={18}
        top={1374}
        width={1887}
        height={1168}
        margin={{ top: 4.8, right: 6.6, bottom: 67.8, left: 93.4 }}
        xDomain={[648, 4000]}
        yDomain={[-0.042, 0.131]}
        xTicks={range(750, 3750, 250)}
        yTicks={range(-0.04, 0.128, 0.004)}
        yMajor={yMajorC}
        yFormat={fix2}
        series={[{ rows: toRows(wnC, absC), color: "#ff0000", width: 3.5 }]}
        peaks={peaksC}
        peakFont={52}
        peakDigit={25}
        leader={4}
        xFont={44}
        xSpacing={-1.5}
        xTickSize={6}
        xTickMargin={10}
        yFont={42}
        ySpacing={-1}
        yTickSize={4}
        yTickMargin={0}
        yAxisWidth={120}
        yAxisColor="#8a8a8a"
        yAxisStroke={3}
      />

      <Panel
        left={1930}
        top={1355}
        width={2020}
        height={1187}
        margin={{ top: 13.7, right: 37.9, bottom: 55.1, left: 144.5 }}
        xDomain={[668, 4000]}
        yDomain={[-0.006, 0.1625]}
        xTicks={range(800, 3800, 200)}
        yTicks={range(-0.004, 0.16, 0.004)}
        yMajor={yMajorD}
        yFormat={fmtD}
        series={[
          { rows: toRows(wnMarine, absMarine), color: "#000080", width: 4 },
          { rows: toRows(wnRain, absRain), color: "#0000ff", width: 4 },
          { rows: toRows(wnAmbient, absAmbient), color: "#ff0000", width: 4 },
        ]}
        peaks={peaksD}
        peakFont={62}
        peakDigit={29}
        leader={4}
        xFont={30}
        xSpacing={1}
        xTickSize={5}
        xTickMargin={9}
        yFont={29}
        ySpacing={1.5}
        yTickSize={6}
        yTickMargin={4}
        yAxisWidth={120}
        yAxisColor="#bdbdbd"
        yAxisStroke={6}
      />

      <svg
        width={3950}
        height={2542}
        style={{ position: "absolute", left: 0, top: 0, pointerEvents: "none" }}
      >
        <T x={136} y={132} size={74} bold={false} color="#111">(a)</T>
        <T x={2078} y={122} size={78} bold={false} color="#111">(b)</T>
        <T x={31} y={1488} size={92} bold={false} color="#111">(c)</T>
        <T x={1978} y={1490} size={96} bold={false} color="#111">(d)</T>

        <T x={323} y={97} size={41} len={598} color="#ff0000">MgUnt on AA2024 Ambient S1</T>
        <T x={2252} y={67} size={46} len={581} color="#ff0000">MgPUnt_ Daytona Beach-7days</T>
        <T x={246} y={1426} size={46} len={659} color="#ff0000">MgPUnt_ Daytona Beach- 30 days</T>

        <T x={2202} y={1420} size={55} len={647} color="#ff0000">MgUnt on AA2024_Ambient</T>
        <T x={2202} y={1491} size={55} len={758} color="#0000ff">MgPUnt on AA2024_Rain Forest</T>
        <T x={2202} y={1561} size={55} len={660} color="#000080">MgPUnt on AA2024_ Marine</T>

        <T x={1154} y={1322} size={44} len={438} anchor="middle">Wavenumbers (cm-1)</T>
        <T x={3036} y={1323} size={40} len={412} anchor="middle">Wavenumbers (cm -1)</T>
        <T x={1068} y={2519} size={42} len={437} anchor="middle">Wavenumbers (cm -1)</T>
        <T x={3060} y={2530} size={54} len={511} anchor="middle">Wavenumbers (cm-1)</T>

        <T x={129} y={623} size={42} len={303} anchor="middle" rotate>Absorbance</T>
        <T x={2071} y={609} size={42} len={308} anchor="middle" rotate>Absorbance</T>
        <T x={47} y={1895} size={42} len={271} anchor="middle" rotate>Absorbance</T>
        <T x={2024} y={1891} size={50} len={323} anchor="middle" rotate>Absorbance</T>
      </svg>
    </div>
  );
}
